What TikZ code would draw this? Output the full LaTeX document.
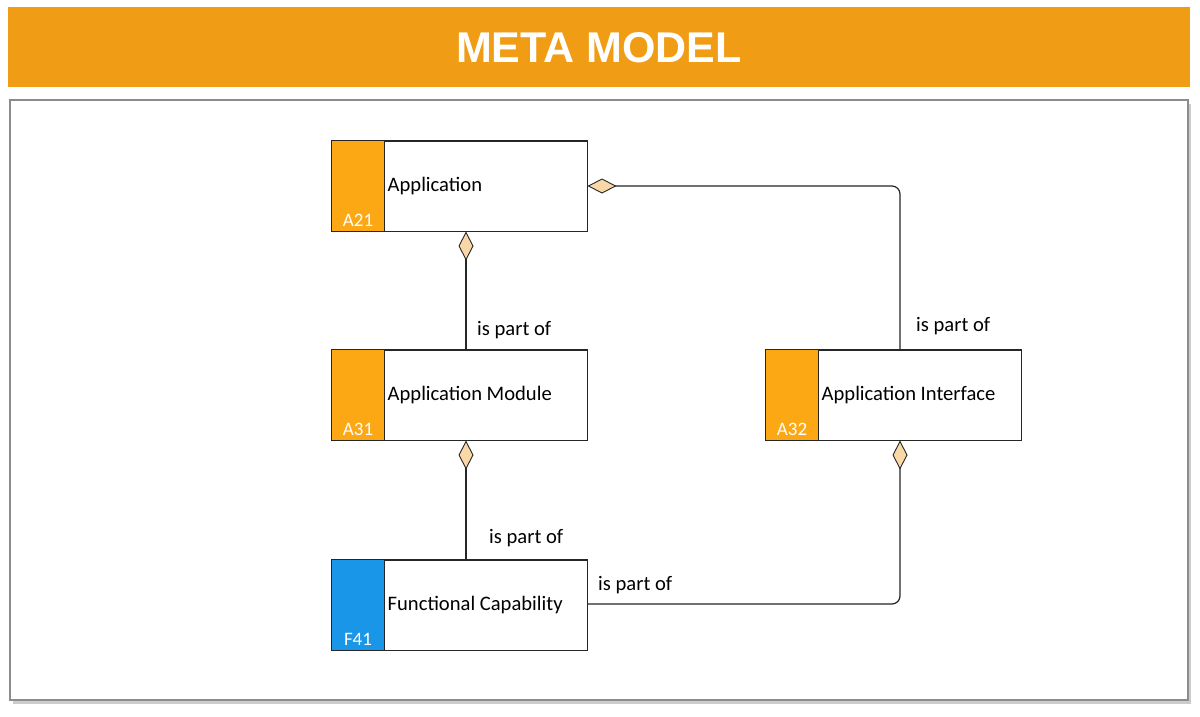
\documentclass[tikz,border=0pt]{standalone}
\usepackage{fontspec}
\setmainfont{Carlito}
\newfontfamily\titlefont{Liberation Sans}
\usetikzlibrary{arrows.meta,shadows}
\definecolor{orng}{HTML}{F09C14}
\definecolor{strip}{HTML}{FBA814}
\definecolor{blu}{HTML}{1A96E8}
\definecolor{dfill}{HTML}{F9D7A6}
\tikzset{
 box/.style={draw=black!85,line width=1pt,fill=white,minimum width=255pt,minimum height=90pt,inner sep=0pt},
 lbl/.style={font=\fontsize{20.6}{24}\selectfont,anchor=west,inner sep=0pt},
 code/.style={font=\fontsize{19}{22}\selectfont,text=white,anchor=south,inner sep=0pt},
 pof/.style={draw=black!85,line width=1.2pt,rounded corners=8pt,{Diamond[length=29pt,width=15pt,fill=dfill,line width=0.9pt]}-},
}
\newcommand{\elem}[5]{%
 \node[box] (#1) at (#2) {};
 \fill[#4] (#1.north west) rectangle ([xshift=53pt]#1.south west);
 \draw[draw=black!85,line width=1pt] (#1.north west) rectangle (#1.south east);
 \draw[draw=black!85,line width=1pt] ([xshift=53pt]#1.north west) -- ([xshift=53pt]#1.south west);
 \node[lbl] (#1-t) at ([xshift=56pt]#1.west) {#3};
 \node[code] (#1-c) at ([xshift=26.5pt,yshift=5pt]#1.south west) {#5};
}
\begin{document}
\begin{tikzpicture}[x=1pt,y=-1pt]
\useasboundingbox (0,0) rectangle (1200,716);
\fill[white] (0,0) rectangle (1200,716);
\node[fill=orng,minimum width=1182pt,minimum height=80pt,inner sep=0pt] (title) at (599,47) {};
\node[text=white,font=\titlefont\bfseries\fontsize{43}{48}\selectfont] (tt) at (599,48) {META MODEL};
\node[draw=black!45,line width=1.2pt,fill=white,minimum width=1178pt,minimum height=600pt,inner sep=0pt,
 drop shadow={shadow xshift=3pt,shadow yshift=-4pt,opacity=0.4}] (frame) at (599,400) {};
\elem{app}{459.5,186}{Application}{strip}{A21}
\elem{mod}{459.5,395}{Application Module}{strip}{A31}
\elem{ifc}{893.5,395}{Application Interface}{strip}{A32}
\elem{fun}{459.5,605}{Functional Capability}{blu}{F41}
\draw[pof] ([xshift=6.5pt]app.south) -- ([xshift=6.5pt]mod.north);
\draw[pof] ([xshift=6.5pt]mod.south) -- ([xshift=6.5pt]fun.north);
\coordinate (c1) at (900,186);
\coordinate (c2) at (900,604);
\draw[pof] (app.east) -- (c1) -- ([xshift=6.5pt]ifc.north);
\draw[pof] ([xshift=6.5pt]ifc.south) -- (c2) -- ([yshift=1pt]fun.east);
\node[lbl] (l1) at (477,330) {is part of};
\node[lbl] (l2) at (916,326) {is part of};
\node[lbl] (l3) at (489,538) {is part of};
\node[lbl] (l4) at (598,585) {is part of};
\end{tikzpicture}
\end{document}
